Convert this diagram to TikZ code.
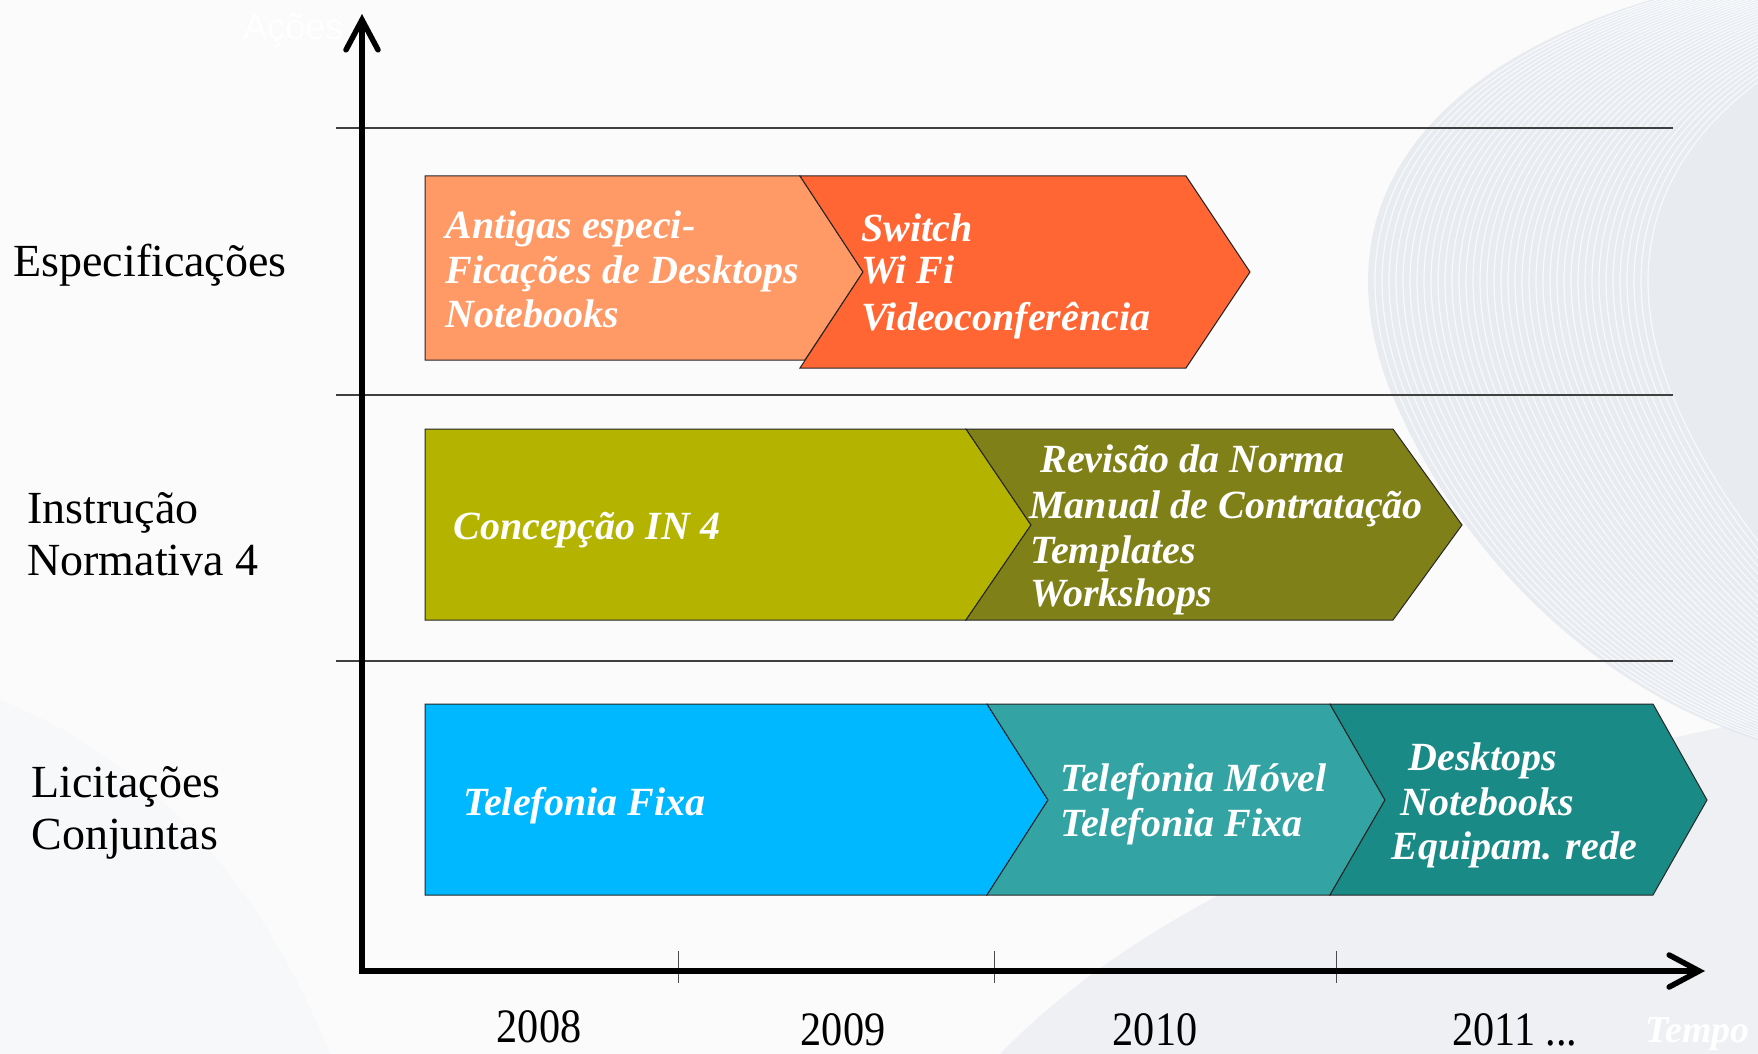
\documentclass[tikz,border=0pt]{standalone}
\usepackage{fontspec}
\setmainfont{Liberation Serif}
\newfontfamily\axsans{Liberation Sans}
\newfontfamily\yrfont[FakeStretch=0.88]{Liberation Serif}
\usetikzlibrary{arrows.meta}
\definecolor{bgc}{HTML}{FBFBFB}
\definecolor{wave}{RGB}{226,231,238}
\definecolor{oA}{HTML}{FF9966}
\definecolor{oB}{HTML}{FF6633}
\definecolor{gA}{HTML}{B3B300}
\definecolor{gB}{RGB}{128,128,25}
\definecolor{bA}{RGB}{0,184,255}
\definecolor{bB}{RGB}{51,163,163}
\definecolor{bC}{RGB}{26,138,135}
\begin{document}
\begin{tikzpicture}[x=0.5pt,y=-0.5pt,
  chev/.style={draw=black!85,line width=0.5pt},
  wtxt/.style={text=white,font=\fontsize{20pt}{22.5pt}\selectfont\bfseries\itshape,inner sep=0pt,anchor=base west},
  lbl/.style={text=black,font=\fontsize{23pt}{26pt}\selectfont,inner sep=0pt,anchor=base west},
  yr/.style={font=\yrfont\fontsize{24pt}{26pt}\selectfont,inner sep=0pt,anchor=base},
  sepline/.style={draw=black!75,line width=0.6pt},
  tickline/.style={draw=black!70,line width=0.5pt},
  axisline/.style={line width=2.75pt,line join=miter,
    {Straight Barb[length=15pt,width=16pt,line cap=round]}-{Straight Barb[length=15pt,width=16pt,line cap=round]}}
]
\useasboundingbox (0,0) rectangle (1758,1054);
\clip (0,0) rectangle (1758,1054);
% background
\fill[bgc] (0,0) rectangle (1758,1054);
\fill[wave,opacity=0.15] (0,700) .. controls (150,760) and (260,880) .. (330,1054) -- (0,1054) -- cycle;
\fill[wave,opacity=0.5] (1000,1054) .. controls (1150,900) and (1400,790) .. (1758,720) -- (1758,1054) -- cycle;
\begin{scope}
  \clip (1650,0) .. controls (1420,70) and (1320,210) .. (1390,390) .. controls (1460,560) and (1600,690) .. (1758,740) -- (1758,0) -- cycle;
  \fill[wave,opacity=0.75] (1300,0) rectangle (1758,800);
  \foreach \i in {1,...,40}{
    \draw[white,line width=0.6pt,opacity=0.7,xshift={\i*3.5pt}]
      (1650,0) .. controls (1420,70) and (1320,210) .. (1390,390) .. controls (1460,560) and (1600,690) .. (1758,740);
  }
\end{scope}
% faint title text
\node[text=white,font=\axsans\fontsize{18pt}{20pt}\selectfont,inner sep=0pt,anchor=base west] (acoes) at (243,40) {Ações};
% separators
\draw[sepline] (336,128) -- (1673,128);
\draw[sepline] (336,395) -- (1673,395);
\draw[sepline] (336,661) -- (1673,661);
% row 1
\filldraw[chev,fill=oA] (425,176) -- (800,176) -- (863,272) -- (805,360) -- (425,360) -- cycle;
\filldraw[chev,fill=oB] (800,176) -- (1186,176) -- (1250,272) -- (1186,368) -- (800,368) -- (863,272) -- cycle;
% row 2
\filldraw[chev,fill=gA] (425,429) -- (966,429) -- (1031,525) -- (966,620) -- (425,620) -- cycle;
\filldraw[chev,fill=gB] (966,429) -- (1393,429) -- (1462,525) -- (1393,620) -- (966,620) -- (1031,525) -- cycle;
% row 3
\filldraw[chev,fill=bA] (425,704) -- (987,704) -- (1048,800) -- (987,895) -- (425,895) -- cycle;
\filldraw[chev,fill=bB] (987,704) -- (1330,704) -- (1385,800) -- (1330,895) -- (987,895) -- (1048,800) -- cycle;
\filldraw[chev,fill=bC] (1330,704) -- (1653,704) -- (1707,800) -- (1653,895) -- (1330,895) -- (1385,800) -- cycle;
% texts row 1
\node[wtxt] (t11) at (445,238) {Antigas especi-};
\node[wtxt] (t12) at (445,283) {Ficações de Desktops};
\node[wtxt] (t13) at (445,328) {Notebooks};
\node[wtxt] (t21) at (861,242) {Switch};
\node[wtxt] (t22) at (861,284) {Wi Fi};
\node[wtxt] (t23) at (861,330) {Videoconferência};
% texts row 2
\node[wtxt] (t31) at (453,539) {Concepção IN 4};
\node[wtxt] (t41) at (1040,472) {Revisão da Norma};
\node[wtxt] (t42) at (1029,518) {Manual de Contratação};
\node[wtxt] (t43) at (1030,563) {Templates};
\node[wtxt] (t44) at (1030,606) {Workshops};
% texts row 3
\node[wtxt] (t51) at (463,815) {Telefonia Fixa};
\node[wtxt] (t61) at (1060,791) {Telefonia Móvel};
\node[wtxt] (t62) at (1060,836) {Telefonia Fixa};
\node[wtxt] (t71) at (1408,770) {Desktops};
\node[wtxt] (t72) at (1400,815) {Notebooks};
\node[wtxt] (t73) at (1391,859) {Equipam. rede};
% row labels
\node[lbl] (l1) at (13,277) {Especificações};
\node[lbl] (l2a) at (27,523) {Instrução};
\node[lbl] (l2b) at (27,575) {Normativa 4};
\node[lbl] (l3a) at (31,797) {Licitações};
\node[lbl] (l3b) at (31,849) {Conjuntas};
% ticks
\draw[tickline] (678,951) -- (678,983);
\draw[tickline] (994,951) -- (994,983);
\draw[tickline] (1336,951) -- (1336,983);
% axes
\coordinate (ytop) at (362,14);
\coordinate (orig) at (362,971);
\coordinate (xend) at (1705,971);
\draw[axisline] (ytop) -- (orig) -- (xend);
% years
\node[yr] (y8) at (539,1042) {2008};
\node[yr] (y9) at (843,1045) {2009};
\node[yr] (y10) at (1155,1045) {2010};
\node[yr,anchor=base west] (y11) at (1452,1045) {2011 ...};
\node[text=white,font=\fontsize{19pt}{21pt}\selectfont\bfseries\itshape,inner sep=0pt,anchor=base west] (tempo) at (1645,1042) {Tempo};
\end{tikzpicture}
\end{document}
